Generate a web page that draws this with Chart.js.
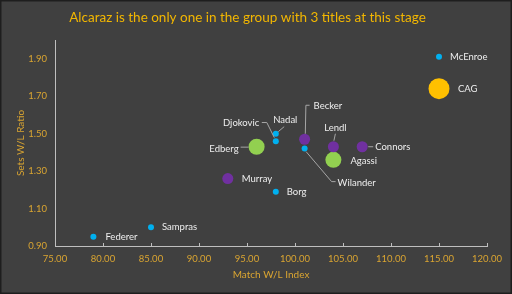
<!DOCTYPE html>
<html>
<head>
<meta charset="utf-8">
<script src="https://cdn.jsdelivr.net/npm/chart.js@4/dist/chart.umd.min.js"></script>
<style>
  html, body { margin: 0; padding: 0; background: #ffffff; }
  #wrap { width: 512px; height: 294px; }
</style>
</head>
<body>
<div id="wrap"><canvas id="chart"></canvas></div>
<script>
// data
const players = ["McEnroe", "CAG", "Connors", "Lendl", "Agassi", "Becker", "Wilander",
  "Nadal", "Djokovic", "Edberg", "Murray", "Borg", "Sampras", "Federer"];
const matchIndex = [115, 115, 107, 104, 104, 101, 101, 98, 98, 96, 93, 98, 85, 79];
const setsRatio = [1.91, 1.74, 1.43, 1.43, 1.36, 1.47, 1.42, 1.50, 1.46, 1.43, 1.26, 1.19, 1.00, 0.95];
const group = ["blue", "gold", "purple", "purple", "green", "purple", "blue",
  "blue", "blue", "green", "purple", "blue", "blue", "blue"];
const xTicks = [75, 80, 85, 90, 95, 100, 105, 110, 115, 120];
const yTicks = [0.9, 1.1, 1.3, 1.5, 1.7, 1.9];

const FONT = "Lato";
const GOLD = "#f2b600";
const TICK = "#daa531";

const groupStyle = {
  blue: { color: "#00b0f0", r: 3 },
  purple: { color: "#7030a0", r: 5.5 },
  green: { color: "#92d050", r: 8 },
  gold: { color: "#ffc000", r: 10.5 },
};

// label placement relative to each point (px), plus leader lines
const labelPos = {
  McEnroe: { dx: 11, dy: 0, align: "left" },
  CAG: { dx: 19, dy: 0, align: "left" },
  Connors: { dx: 13, dy: 0, align: "left", lead: [[6, 0], [11, 0]] },
  Lendl: { dx: 2, dy: -19, align: "center", lead: [[2, -13], [0.5, -6]] },
  Agassi: { dx: 17, dy: 1, align: "left" },
  Becker: { dx: 9, dy: -33.5, align: "left", lead: [[0.7, -5.5], [1.3, -34], [5, -34]] },
  Wilander: { dx: 33, dy: 34.5, align: "left", lead: [[1.5, 3], [27, 33], [31, 33]] },
  Nadal: { dx: 9.5, dy: -13.7, align: "center", lead: [[8.4, -7], [2.5, -2]] },
  Djokovic: { dx: -16.5, dy: -18.3, align: "right", lead: [[-14, -18.6], [-9, -18.6], [-1.5, -3.5]] },
  Edberg: { dx: -18, dy: 2, align: "right", lead: [[-16, 0.4], [-8, 0.4]] },
  Murray: { dx: 14, dy: 0, align: "left" },
  Borg: { dx: 11, dy: 0, align: "left" },
  Sampras: { dx: 11, dy: 0, align: "left" },
  Federer: { dx: 12, dy: 0, align: "left" },
};

const datasets = ["blue", "purple", "green", "gold"].map((g) => {
  const idx = players.map((p, i) => i).filter((i) => group[i] === g);
  return {
    label: g,
    data: idx.map((i) => ({ x: matchIndex[i], y: setsRatio[i], name: players[i] })),
    backgroundColor: groupStyle[g].color,
    borderColor: groupStyle[g].color,
    pointRadius: groupStyle[g].r,
    pointHoverRadius: groupStyle[g].r,
    borderWidth: 0,
  };
});

const backdrop = {
  id: "backdrop",
  beforeDraw(chart) {
    const { ctx, width, height } = chart;
    ctx.save();
    ctx.fillStyle = "#404040";
    ctx.fillRect(0, 0, width, height);
    ctx.strokeStyle = "#1e1e1e";
    ctx.lineWidth = 1.5;
    ctx.strokeRect(0.75, 0.75, width - 1.5, height - 1.5);
    ctx.restore();
  },
};

// small inward tick marks on the x axis
const xTickMarks = {
  id: "xTickMarks",
  afterDraw(chart) {
    const { ctx, scales } = chart;
    const x = scales.x;
    const yb = chart.chartArea.bottom;
    ctx.save();
    ctx.strokeStyle = "#bfbfbf";
    ctx.lineWidth = 1;
    ctx.beginPath();
    xTicks.forEach((t) => {
      const px = Math.round(x.getPixelForValue(t)) + 0.5;
      ctx.moveTo(px, yb);
      ctx.lineTo(px, yb - 3);
    });
    ctx.stroke();
    ctx.restore();
  },
};

const pointLabels = {
  id: "pointLabels",
  afterDatasetsDraw(chart) {
    const { ctx } = chart;
    ctx.save();
    ctx.font = "9.5px " + FONT;
    ctx.textBaseline = "middle";
    chart.data.datasets.forEach((ds, di) => {
      const meta = chart.getDatasetMeta(di);
      meta.data.forEach((pt, i) => {
        const name = ds.data[i].name;
        const lp = labelPos[name];
        if (lp.lead) {
          ctx.strokeStyle = "#a6a6a6";
          ctx.lineWidth = 1;
          ctx.beginPath();
          lp.lead.forEach(([lx, ly], k) => {
            if (k === 0) ctx.moveTo(pt.x + lx, pt.y + ly);
            else ctx.lineTo(pt.x + lx, pt.y + ly);
          });
          ctx.stroke();
        }
        ctx.fillStyle = "#eeeeee";
        ctx.textAlign = lp.align;
        ctx.fillText(name, pt.x + lp.dx, pt.y + lp.dy);
      });
    });
    ctx.restore();
  },
};

new Chart(document.getElementById("chart"), {
  type: "scatter",
  data: { datasets },
  plugins: [backdrop, xTickMarks, pointLabels],
  options: {
    responsive: true,
    maintainAspectRatio: false,
    animation: false,
    events: [],
    layout: { padding: { left: 8, right: 25, top: 0, bottom: 3 } },
    plugins: {
      legend: { display: false },
      tooltip: { enabled: false },
      title: {
        display: true,
        text: "Alcaraz is the only one in the group with 3 titles at this stage",
        color: GOLD,
        font: { family: FONT, size: 13.5, weight: "normal" },
        padding: { top: 10, bottom: 13.8 },
      },
    },
    scales: {
      x: {
        type: "linear",
        min: 75,
        max: 120,
        afterBuildTicks: (s) => { s.ticks = xTicks.map((v) => ({ value: v })); },
        afterFit: (s) => { s.height = 45; },
        ticks: {
          color: TICK,
          font: { family: FONT, size: 9.5 },
          padding: 7,
          maxRotation: 0,
          callback: (v) => Number(v).toFixed(2),
        },
        grid: { display: true, drawOnChartArea: false, drawTicks: false },
        border: { color: "#bfbfbf", width: 1 },
        title: {
          display: true,
          text: "Match W/L Index",
          color: TICK,
          font: { family: FONT, size: 10 },
          padding: { top: 4, bottom: 10 },
        },
      },
      y: {
        type: "linear",
        min: 0.9,
        max: 2.0,
        afterBuildTicks: (s) => { s.ticks = yTicks.map((v) => ({ value: v })); },
        afterFit: (s) => { s.width = 47; },
        ticks: {
          color: TICK,
          font: { family: FONT, size: 9.5 },
          padding: 8,
          callback: (v) => Number(v).toFixed(2),
        },
        grid: { display: true, drawOnChartArea: false, drawTicks: false },
        border: { color: "#bfbfbf", width: 1 },
        title: {
          display: true,
          text: "Sets W/L Ratio",
          color: TICK,
          font: { family: FONT, size: 10 },
          padding: { top: 7, bottom: 0 },
        },
      },
    },
  },
});
</script>
</body>
</html>
